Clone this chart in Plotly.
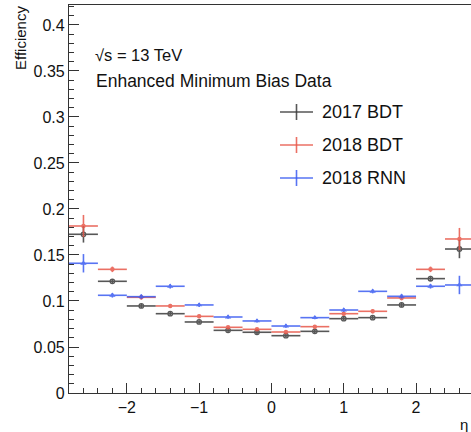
import plotly.graph_objects as go

eta_centers = [-2.6, -2.2, -1.8, -1.4, -1.0, -0.6, -0.2, 0.2, 0.6, 1.0, 1.4, 1.8, 2.2, 2.6]
bin_half = [0.2] * 14

eff_2017_bdt = [0.1725, 0.1214, 0.0946, 0.0862, 0.0772, 0.0681, 0.0660, 0.0623, 0.0670, 0.0808, 0.0819, 0.0957, 0.1243, 0.1565]
err_2017_bdt = [0.0090, 0.0025, 0.0022, 0.0020, 0.0020, 0.0018, 0.0018, 0.0018, 0.0018, 0.0020, 0.0020, 0.0025, 0.0030, 0.0100]
eff_2018_bdt = [0.1815, 0.1344, 0.1040, 0.0946, 0.0833, 0.0714, 0.0692, 0.0663, 0.0721, 0.0862, 0.0888, 0.1033, 0.1344, 0.1674]
err_2018_bdt = [0.0120, 0.0030, 0.0025, 0.0022, 0.0020, 0.0018, 0.0018, 0.0018, 0.0018, 0.0020, 0.0022, 0.0025, 0.0030, 0.0120]
eff_2018_rnn = [0.1410, 0.1062, 0.1047, 0.1160, 0.0957, 0.0826, 0.0783, 0.0728, 0.0819, 0.0902, 0.1105, 0.1051, 0.1160, 0.1174]
err_2018_rnn = [0.0100, 0.0025, 0.0025, 0.0025, 0.0022, 0.0018, 0.0018, 0.0018, 0.0018, 0.0020, 0.0022, 0.0025, 0.0025, 0.0100]

series_names = ["2017 BDT", "2018 BDT", "2018 RNN"]
colors = ["#3a3a3a", "#e8584a", "#3b5cf2"]

W, H = 471, 432
L, R, T, B = 69, 0, 5, 39
pw, ph = W - L - R, H - T - B

def px(x):
    return (x - L) / pw

def py(y):
    return (H - B - y) / ph

fig = go.Figure()

series = [
    (eff_2017_bdt, err_2017_bdt, dict(symbol="circle-open", size=4.5, color=colors[0], line=dict(width=1.3, color=colors[0]))),
    (eff_2018_bdt, err_2018_bdt, dict(symbol="circle", size=4.5, color=colors[1])),
    (eff_2018_rnn, err_2018_rnn, dict(symbol="triangle-up", size=5.5, color=colors[2])),
]
for name, (vals, errs, mk), col in zip(series_names, series, colors):
    fig.add_trace(go.Scatter(
        x=eta_centers, y=vals, mode="markers", name=name,
        marker=mk,
        error_x=dict(type="data", array=bin_half, width=0, thickness=1.6, color=col),
        error_y=dict(type="data", array=errs, width=0, thickness=1.6, color=col),
        opacity=0.85,
        showlegend=False,
    ))

shapes = []
annotations = []
legend_y = [112, 145, 178]
for name, col, ly in zip(series_names, colors, legend_y):
    shapes.append(dict(type="line", xref="paper", yref="paper",
                       x0=px(280), x1=px(313), y0=py(ly), y1=py(ly),
                       line=dict(color=col, width=1.6), opacity=0.85))
    shapes.append(dict(type="line", xref="paper", yref="paper",
                       x0=px(296.5), x1=px(296.5), y0=py(ly - 8), y1=py(ly + 8),
                       line=dict(color=col, width=1.6), opacity=0.85))
    annotations.append(dict(xref="paper", yref="paper", x=px(320), y=py(ly),
                            xanchor="left", yanchor="middle", showarrow=False,
                            text=name, font=dict(size=18, color="#111")))

annotations.append(dict(xref="paper", yref="paper", x=px(93), y=py(55),
                        xanchor="left", yanchor="middle", showarrow=False,
                        text="√s = 13 TeV", font=dict(size=16.5, color="#111")))
annotations.append(dict(xref="paper", yref="paper", x=px(94), y=py(81),
                        xanchor="left", yanchor="middle", showarrow=False,
                        text="Enhanced Minimum Bias Data", font=dict(size=17.5, color="#111")))
annotations.append(dict(xref="paper", yref="paper", x=px(20), y=py(4),
                        xanchor="center", yanchor="top", showarrow=False, textangle=-90,
                        text="Efficiency", font=dict(size=15, color="#111")))
annotations.append(dict(xref="paper", yref="paper", x=px(470), y=py(424),
                        xanchor="right", yanchor="middle", showarrow=False,
                        text="η", font=dict(size=15, color="#111")))

fig.update_layout(
    width=W, height=H,
    margin=dict(l=L, r=R, t=T, b=B),
    paper_bgcolor="white", plot_bgcolor="white",
    font=dict(family="Liberation Sans, Arial, sans-serif", color="#111"),
    shapes=shapes, annotations=annotations,
    xaxis=dict(range=[-2.8, 2.76], showgrid=False, zeroline=False,
               showline=True, linecolor="#333", linewidth=1.2, mirror=True,
               ticks="inside", ticklen=10, tickcolor="#333", tickwidth=1,
               tick0=0, dtick=1, tickfont=dict(size=16),
               minor=dict(ticks="inside", ticklen=5, dtick=0.2, tick0=0, tickcolor="#333", showgrid=False)),
    yaxis=dict(range=[0, 0.4217], showgrid=False, zeroline=False,
               showline=True, linecolor="#333", linewidth=1.2, mirror=True,
               ticks="inside", ticklen=10, tickcolor="#333", tickwidth=1,
               tickfont=dict(size=16),
               tickvals=[0, 0.05, 0.1, 0.15, 0.2, 0.25, 0.3, 0.35, 0.4],
               ticktext=["0", "0.05", "0.1", "0.15", "0.2", "0.25", "0.3", "0.35", "0.4"],
               minor=dict(ticks="inside", ticklen=5, dtick=0.01, tick0=0, tickcolor="#333", showgrid=False)),
)

fig.write_html("out.html", config={"displayModeBar": False},
               post_script="document.body.style.margin='0';document.body.style.overflow='hidden';")
